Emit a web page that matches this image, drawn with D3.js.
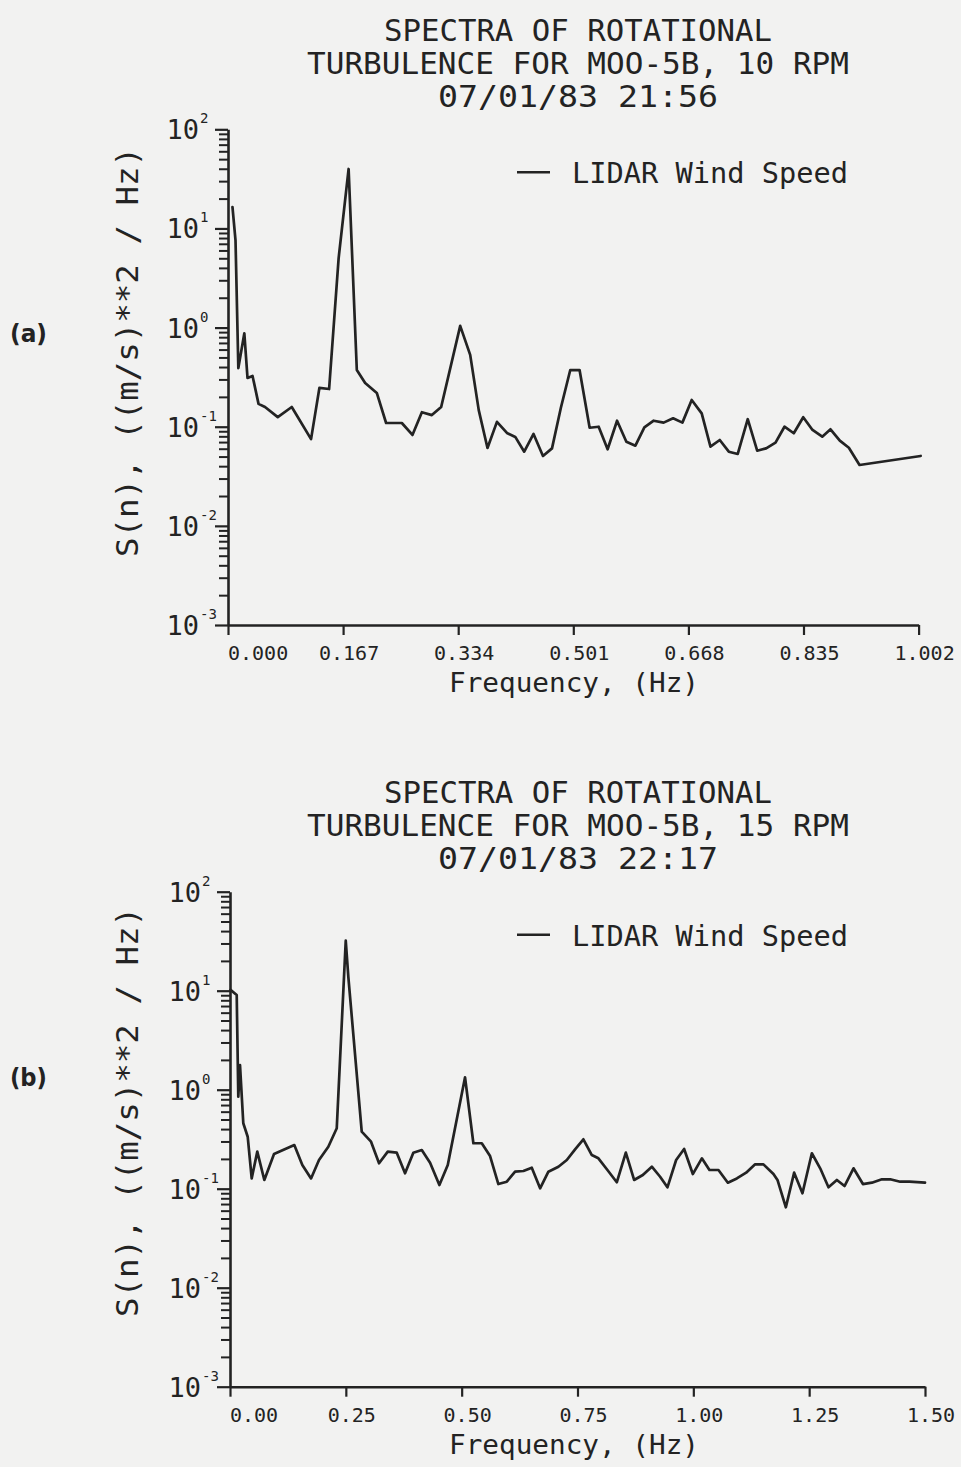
<!DOCTYPE html>
<html>
<head>
<meta charset="utf-8">
<script src="https://cdn.jsdelivr.net/npm/d3@7"></script>
<style>
  html, body { margin: 0; padding: 0; background: #f2f2f1; }
  svg { display: block; }
</style>
</head>
<body>
<svg id="chart" width="961" height="1467"></svg>
<script>
// ---- Panel (a): 10 RPM run ----
const titleA = ["SPECTRA OF ROTATIONAL", "TURBULENCE FOR MOO-5B, 10 RPM", "07/01/83  21:56"];
const freqA = [0.0065, 0.0109, 0.0150, 0.0237, 0.0283, 0.0356, 0.0443, 0.0537, 0.0722, 0.0925,
  0.1205, 0.1326, 0.1467, 0.1605, 0.1750, 0.1869, 0.1990, 0.2159, 0.2294, 0.2522,
  0.2676, 0.2813, 0.2958, 0.3093, 0.3369, 0.3514, 0.3638, 0.3765, 0.3902, 0.4047,
  0.4168, 0.4298, 0.4433, 0.4570, 0.4701, 0.4829, 0.4966, 0.5101, 0.5247, 0.5378,
  0.5508, 0.5645, 0.5780, 0.5911, 0.6041, 0.6176, 0.6321, 0.6458, 0.6593, 0.6728,
  0.6873, 0.7000, 0.7135, 0.7266, 0.7396, 0.7541, 0.7678, 0.7808, 0.7944, 0.8074,
  0.8209, 0.8346, 0.8481, 0.8622, 0.8742, 0.8877, 0.9008, 0.9163, 1.0050];
const specA = [16.4, 7.6, 0.39, 0.875, 0.31, 0.325, 0.17, 0.158, 0.125, 0.158,
  0.075, 0.246, 0.24, 5.0, 39.8, 0.373, 0.276, 0.219, 0.109, 0.109,
  0.0826, 0.14, 0.131, 0.158, 1.04, 0.53, 0.147, 0.061, 0.112, 0.0865,
  0.0789, 0.056, 0.0845, 0.0507, 0.0605, 0.1545, 0.373, 0.373, 0.0977, 0.1,
  0.0592, 0.115, 0.0706, 0.0644, 0.0986, 0.115, 0.11, 0.1217, 0.11, 0.186,
  0.1365, 0.063, 0.0735, 0.056, 0.0531, 0.119, 0.0573, 0.0605, 0.069, 0.1,
  0.0859, 0.1245, 0.0927, 0.0794, 0.0942, 0.0723, 0.0614, 0.0411, 0.0507];
const xTicksA = [0, 0.167, 0.334, 0.501, 0.668, 0.835, 1.002];
const xTickLabelsA = ["0.000", "0.167", "0.334", "0.501", "0.668", "0.835", "1.002"];

// ---- Panel (b): 15 RPM run ----
const titleB = ["SPECTRA OF ROTATIONAL", "TURBULENCE FOR MOO-5B, 15 RPM", "07/01/83  22:17"];
const freqB = [0.0011, 0.0145, 0.0179, 0.0216, 0.0287, 0.0382, 0.0468, 0.0589, 0.0741, 0.0950,
  0.1388, 0.1561, 0.1749, 0.1921, 0.2122, 0.2304, 0.2498, 0.2554, 0.2843, 0.3044,
  0.3217, 0.3405, 0.3599, 0.3778, 0.3957, 0.4139, 0.4318, 0.4519, 0.4700, 0.5073,
  0.5253, 0.5434, 0.5613, 0.5792, 0.5974, 0.6153, 0.6332, 0.6513, 0.6693, 0.6872,
  0.7088, 0.7269, 0.7448, 0.7627, 0.7809, 0.7951, 0.8146, 0.8348, 0.8543, 0.8722,
  0.8910, 0.9104, 0.9283, 0.9441, 0.9629, 0.9801, 0.9989, 1.0184, 1.0348, 1.0542,
  1.0745, 1.0939, 1.1140, 1.1334, 1.1513, 1.1729, 1.1816, 1.1997, 1.2176, 1.2355,
  1.2558, 1.2738, 1.2917, 1.3098, 1.3263, 1.3457, 1.3660, 1.3854, 1.4070, 1.4249,
  1.4465, 1.4665, 1.5000];
const specB = [10.2, 9.06, 0.849, 1.776, 0.458, 0.335, 0.127, 0.237, 0.1225, 0.2245,
  0.276, 0.1735, 0.127, 0.195, 0.2655, 0.4074, 32.0, 13.8, 0.3767, 0.2985,
  0.1807, 0.2366, 0.2312, 0.1432, 0.2312, 0.246, 0.1832, 0.1089, 0.1735, 1.334,
  0.2877, 0.2877, 0.2138, 0.1114, 0.1177, 0.1486, 0.151, 0.163, 0.101, 0.1486,
  0.1668, 0.195, 0.25, 0.3155, 0.2188, 0.2027, 0.1545, 0.1161, 0.2312, 0.1225,
  0.1374, 0.1668, 0.132, 0.1033, 0.195, 0.252, 0.1406, 0.2027, 0.1545, 0.1545,
  0.115, 0.127, 0.1452, 0.1762, 0.1762, 0.1406, 0.1225, 0.0649, 0.1452, 0.0899,
  0.228, 0.1607, 0.1033, 0.1225, 0.1064, 0.1607, 0.1114, 0.115, 0.1245, 0.1245,
  0.1177, 0.1177, 0.115];
const xTicksB = [0, 0.25, 0.5, 0.75, 1.0, 1.25, 1.5];
const xTickLabelsB = ["0.00", "0.25", "0.50", "0.75", "1.00", "1.25", "1.50"];

// ---- Shared axis text ----
const yExponents = [-3, -2, -1, 0, 1, 2];
const legendLabel = "LIDAR Wind Speed";
const yAxisLabel = "S(n), ((m/s)**2 / Hz)";
const xAxisLabel = "Frequency, (Hz)";

const INK = "#232323";
const MONO = "'DejaVu Sans Mono', 'Liberation Mono', monospace";

const svg = d3.select("#chart");
svg.append("rect").attr("width", 961).attr("height", 1467).attr("fill", "#f2f2f1");

function drawPanel(cfg) {
  const g = svg.append("g").attr("color", INK);
  const x = d3.scaleLinear().domain([0, cfg.xMax]).range([cfg.left, cfg.right]);
  const y = d3.scaleLog().domain([1e-3, 1e2]).range([cfg.bottom, cfg.top]);

  // Title block
  cfg.title.forEach((t, i) => {
    g.append("text")
      .attr("x", 578).attr("y", cfg.titleY[i])
      .attr("text-anchor", "middle")
      .attr("font-family", MONO).attr("font-size", 31)
      .attr("fill", INK)
      .attr("textLength", cfg.titleW[i]).attr("lengthAdjust", "spacingAndGlyphs")
      .text(t);
  });

  // Log-scale minor and major ticks on the left axis
  const minor = [];
  yExponents.slice(0, -1).forEach(e => {
    for (let k = 2; k <= 9; k++) minor.push(k * Math.pow(10, e));
  });
  const majors = yExponents.map(e => Math.pow(10, e));

  const yMinor = g.append("g")
    .attr("transform", `translate(${cfg.left},0)`)
    .call(d3.axisLeft(y).tickValues(minor).tickSize(9).tickSizeOuter(0).tickFormat(""));
  yMinor.selectAll("line").attr("stroke-width", 2);
  yMinor.select(".domain").attr("stroke-width", 2.6);

  const yMajor = g.append("g")
    .attr("transform", `translate(${cfg.left},0)`)
    .call(d3.axisLeft(y).tickValues(majors).tickSize(13).tickSizeOuter(0).tickFormat(""));
  yMajor.select(".domain").remove();
  yMajor.selectAll("line").attr("stroke-width", 2.2);

  // Bottom axis
  const xAx = g.append("g")
    .attr("transform", `translate(0,${cfg.bottom})`)
    .call(d3.axisBottom(x).tickValues(cfg.xTicks).tickSize(10).tickSizeOuter(0).tickFormat(""));
  xAx.select(".domain").attr("stroke-width", 2.6);
  xAx.selectAll("line").attr("stroke-width", 2.2);

  // Power-of-ten labels
  yExponents.forEach(e => {
    const yy = y(Math.pow(10, e));
    g.append("text")
      .attr("x", cfg.left - 29).attr("y", yy + 10)
      .attr("text-anchor", "end")
      .attr("font-family", MONO).attr("font-size", 27).attr("fill", INK)
      .text("10");
    g.append("text")
      .attr("x", cfg.left - 28).attr("y", yy - 6)
      .attr("text-anchor", "start")
      .attr("font-family", MONO).attr("font-size", 14).attr("fill", INK)
      .text(String(e));
  });

  // Frequency tick labels
  cfg.xTicks.forEach((v, i) => {
    const first = i === 0;
    g.append("text")
      .attr("x", first ? x(v) : x(v) + 6)
      .attr("y", cfg.bottom + 35)
      .attr("text-anchor", first ? "start" : "middle")
      .attr("font-family", MONO).attr("font-size", 20).attr("fill", INK)
      .text(cfg.xLabels[i]);
  });

  // Axis titles
  g.append("text")
    .attr("x", 449).attr("y", cfg.bottom + 67)
    .attr("font-family", MONO).attr("font-size", 26).attr("fill", INK)
    .attr("textLength", 250).attr("lengthAdjust", "spacingAndGlyphs")
    .text(xAxisLabel);

  g.append("text")
    .attr("transform", `translate(138,${cfg.yLabelC}) rotate(-90)`)
    .attr("text-anchor", "middle")
    .attr("font-family", MONO).attr("font-size", 31).attr("fill", INK)
    .attr("textLength", 410).attr("lengthAdjust", "spacingAndGlyphs")
    .text(yAxisLabel);

  // Panel tag
  g.append("text")
    .attr("x", 10).attr("y", cfg.tagY)
    .attr("font-family", "'DejaVu Sans', sans-serif").attr("font-weight", "bold")
    .attr("font-size", 25).attr("fill", INK)
    .attr("textLength", 37).attr("lengthAdjust", "spacingAndGlyphs")
    .text(cfg.tag);

  // Legend
  g.append("line")
    .attr("x1", 517).attr("x2", 550)
    .attr("y1", cfg.top + 43).attr("y2", cfg.top + 43)
    .attr("stroke", INK).attr("stroke-width", 2.4);
  g.append("text")
    .attr("x", 572).attr("y", cfg.top + 54)
    .attr("font-family", MONO).attr("font-size", 29).attr("fill", INK)
    .attr("textLength", 276).attr("lengthAdjust", "spacingAndGlyphs")
    .text(legendLabel);

  // Spectrum trace
  const pts = cfg.freq.map((f, i) => [f, cfg.spec[i]]);
  g.append("path")
    .datum(pts)
    .attr("fill", "none")
    .attr("stroke", INK)
    .attr("stroke-width", 2.7)
    .attr("stroke-linejoin", "round")
    .attr("stroke-linecap", "round")
    .attr("d", d3.line().x(d => x(d[0])).y(d => y(d[1])));
}

drawPanel({
  title: titleA, titleY: [41, 74, 107], titleW: [388, 542, 280],
  left: 228, right: 918.6, top: 129.3, bottom: 625, xMax: 1.002,
  xTicks: xTicksA, xLabels: xTickLabelsA,
  freq: freqA, spec: specA,
  yLabelC: 352, tag: "(a)", tagY: 342
});

drawPanel({
  title: titleB, titleY: [803, 836, 869], titleW: [388, 542, 280],
  left: 230, right: 925, top: 891.7, bottom: 1386.7, xMax: 1.5,
  xTicks: xTicksB, xLabels: xTickLabelsB,
  freq: freqB, spec: specB,
  yLabelC: 1112, tag: "(b)", tagY: 1086
});
</script>
</body>
</html>
